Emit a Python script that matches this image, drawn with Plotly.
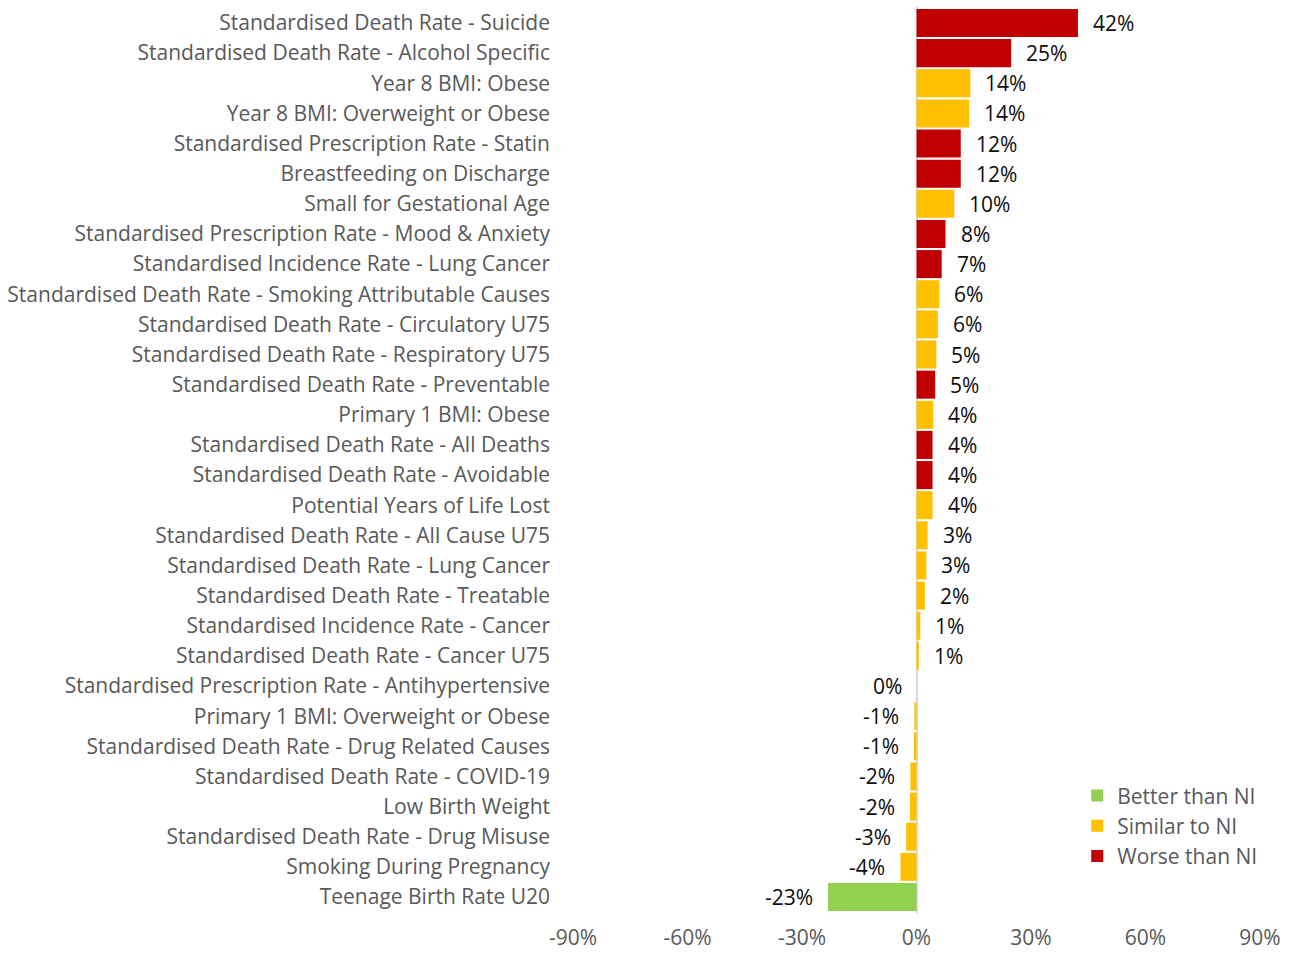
import plotly.graph_objects as go

# Indicators, top to bottom, with percentage difference from the NI average
indicators = [
    "Standardised Death Rate - Suicide",
    "Standardised Death Rate - Alcohol Specific",
    "Year 8 BMI: Obese",
    "Year 8 BMI: Overweight or Obese",
    "Standardised Prescription Rate - Statin",
    "Breastfeeding on Discharge",
    "Small for Gestational Age",
    "Standardised Prescription Rate - Mood & Anxiety",
    "Standardised Incidence Rate - Lung Cancer",
    "Standardised Death Rate - Smoking Attributable Causes",
    "Standardised Death Rate - Circulatory U75",
    "Standardised Death Rate - Respiratory U75",
    "Standardised Death Rate - Preventable",
    "Primary 1 BMI: Obese",
    "Standardised Death Rate - All Deaths",
    "Standardised Death Rate - Avoidable",
    "Potential Years of Life Lost",
    "Standardised Death Rate - All Cause U75",
    "Standardised Death Rate - Lung Cancer",
    "Standardised Death Rate - Treatable",
    "Standardised Incidence Rate - Cancer",
    "Standardised Death Rate - Cancer U75",
    "Standardised Prescription Rate - Antihypertensive",
    "Primary 1 BMI: Overweight or Obese",
    "Standardised Death Rate - Drug Related Causes",
    "Standardised Death Rate - COVID-19",
    "Low Birth Weight",
    "Standardised Death Rate - Drug Misuse",
    "Smoking During Pregnancy",
    "Teenage Birth Rate U20",
]

diff_pct = [
    42.3, 24.8, 14.1, 13.8, 11.6, 11.6, 9.9, 7.6, 6.6, 6.0,
    5.6, 5.2, 4.9, 4.4, 4.2, 4.2, 4.2, 2.9, 2.6, 2.2,
    1.0, 0.6, 0.0, -0.55, -0.7, -1.6, -1.7, -2.7, -4.2, -23.2,
]

status = [
    "Worse", "Worse", "Similar", "Similar", "Worse", "Worse", "Similar", "Worse", "Worse", "Similar",
    "Similar", "Similar", "Worse", "Similar", "Worse", "Worse", "Similar", "Similar", "Similar", "Similar",
    "Similar", "Similar", "Similar", "Similar", "Similar", "Similar", "Similar", "Similar", "Similar", "Better",
]

groups = [
    ("Better", "Better than NI", "#92D050"),
    ("Similar", "Similar to NI", "#FFC000"),
    ("Worse", "Worse than NI", "#C00000"),
]

x_ticks = [-90, -60, -30, 0, 30, 60, 90]

FONT = "Open Sans, Calibri, sans-serif"
FSIZE = 21
GREY = "#595959"

fig = go.Figure()

for key, name, colour in groups:
    ys = [c for c, s in zip(indicators, status) if s == key]
    xs = [v for v, s in zip(diff_pct, status) if s == key]
    # bars (legend handled by the marker-only traces below)
    fig.add_trace(go.Bar(
        x=xs, y=ys, orientation="h", marker=dict(color=colour, line=dict(width=0)),
        name=name, showlegend=False, hoverinfo="x+y",
    ))

for key, name, colour in groups:
    fig.add_trace(go.Scatter(
        x=[None], y=[None], mode="markers", name=name,
        marker=dict(symbol="square", size=8, color=colour),
    ))

# value labels beyond the end of each bar
for cat, v in zip(indicators, diff_pct):
    pos = v > 0
    fig.add_annotation(
        x=v, y=cat, xref="x", yref="y",
        text=f"{v:.0f}%",
        showarrow=False,
        xanchor="left" if pos else "right",
        xshift=13 if pos else -13,
        font=dict(family=FONT, size=FSIZE, color="#0D0D0D"),
    )

fig.update_layout(
    width=1296, height=953,
    margin=dict(l=573, r=36, t=7, b=40),
    paper_bgcolor="white", plot_bgcolor="white",
    barmode="overlay", bargap=0.07,
    font=dict(family=FONT, size=FSIZE, color=GREY),
    showlegend=True,
    legend=dict(
        x=0.734, y=0.152, xanchor="left", yanchor="top",
        bgcolor="rgba(0,0,0,0)", traceorder="normal",
        font=dict(family=FONT, size=FSIZE, color=GREY),
        itemsizing="constant", tracegroupgap=0,
    ),
)

fig.update_xaxes(
    range=[-90, 90], tickvals=x_ticks,
    ticktext=[f"{t}%" for t in x_ticks],
    showgrid=False, zeroline=True, zerolinecolor="#D9D9D9", zerolinewidth=2,
    showline=False, ticks="", ticklabelstandoff=10, automargin=False,
    tickfont=dict(family=FONT, size=FSIZE, color=GREY),
)

fig.update_yaxes(
    categoryorder="array", categoryarray=indicators, autorange="reversed",
    showgrid=False, showline=False, ticks="", ticklabelstandoff=22, automargin=False,
    tickfont=dict(family=FONT, size=FSIZE, color=GREY),
)

fig.write_html("out.html")
